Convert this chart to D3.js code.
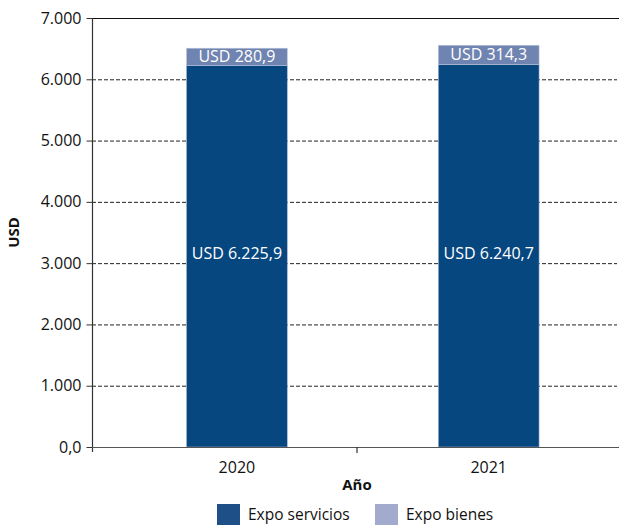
<!DOCTYPE html>
<html>
<head>
<meta charset="utf-8">
<script src="https://cdn.jsdelivr.net/npm/d3@7"></script>
<style>
  body { margin: 0; background: #fff; }
  svg { display: block; font-family: "Open Sans", "Noto Sans", sans-serif; }
</style>
</head>
<body>
<svg id="chart" width="619" height="525"></svg>
<script>
// Datos
var years = ["2020", "2021"];
var servicios = [6225.9, 6240.7];
var bienes = [280.9, 314.3];
var yTicks = [0, 1000, 2000, 3000, 4000, 5000, 6000, 7000];
var seriesNames = ["Expo servicios", "Expo bienes"];

var colorBar = ["#07477f", "#7084b1"];
var colorLegend = ["#1e4f87", "#a2abce"];

var svg = d3.select("#chart");
var plotLeft = 92, plotRight = 622, plotTop = 18, plotBottom = 447;

// Escala de barras y escala de categorías (para las marcas del eje)
var x = d3.scaleBand().domain(years).range([111, 614.6])
    .paddingInner(0.6).paddingOuter(0.3);
var xCat = d3.scaleBand().domain(years).range([plotLeft, plotRight]);
var y = d3.scaleLinear().domain([0, 7000]).range([plotBottom, plotTop]);

var fmtTick = function (v) {
    if (v === 0) return "0,0";
    return d3.format(",")(v).replace(/,/g, ".");
};
var fmtVal = function (v) {
    var s = d3.format(",.1f")(v);
    return "USD " + s.replace(/,/g, "#").replace(".", ",").replace(/#/g, ".");
};

// Líneas de cuadrícula
svg.append("g").selectAll("line").data(yTicks.filter(function (d) { return d > 0 && d < 7000; }))
    .enter().append("line")
    .attr("x1", plotLeft).attr("x2", 617)
    .attr("y1", function (d) { return y(d) + 0.5; })
    .attr("y2", function (d) { return y(d) + 0.5; })
    .attr("stroke", "#222").attr("stroke-width", 1).attr("stroke-dasharray", "4,2");

// Línea superior
svg.append("line").attr("x1", plotLeft).attr("x2", 619)
    .attr("y1", y(7000) + 0.5).attr("y2", y(7000) + 0.5)
    .attr("stroke", "#111").attr("stroke-width", 1.2);

// Barras apiladas
var data = years.map(function (d, i) { return { year: d, s: servicios[i], b: bienes[i] }; });
var g = svg.append("g");
g.selectAll("rect.s").data(data).enter().append("rect")
    .attr("x", function (d) { return x(d.year); })
    .attr("width", x.bandwidth())
    .attr("y", function (d) { return y(d.s); })
    .attr("height", function (d) { return y(0) - y(d.s); })
    .attr("fill", colorBar[0]).attr("stroke", "#9fb0cf").attr("stroke-width", 0.6);
g.selectAll("rect.b").data(data).enter().append("rect")
    .attr("x", function (d) { return x(d.year); })
    .attr("width", x.bandwidth())
    .attr("y", function (d) { return y(d.s + d.b); })
    .attr("height", function (d) { return y(d.s) - y(d.s + d.b); })
    .attr("fill", colorBar[1]).attr("stroke", "#b8c4dc").attr("stroke-width", 0.6);

// Etiquetas de valor
g.selectAll("text.s").data(data).enter().append("text")
    .attr("x", function (d) { return x(d.year) + x.bandwidth() / 2; })
    .attr("y", function (d) { return (y(0) + y(d.s)) / 2 + 3; })
    .attr("text-anchor", "middle").attr("fill", "#fff").attr("font-size", 16)
    .text(function (d) { return fmtVal(d.s); });
g.selectAll("text.b").data(data).enter().append("text")
    .attr("x", function (d) { return x(d.year) + x.bandwidth() / 2; })
    .attr("y", function (d) { return (y(d.s) + y(d.s + d.b)) / 2 + 5.5; })
    .attr("text-anchor", "middle").attr("fill", "#fff").attr("font-size", 16)
    .text(function (d) { return fmtVal(d.b); });

// Eje Y
var yAxis = svg.append("g").attr("transform", "translate(" + (plotLeft + 0.5) + ",0)")
    .call(d3.axisLeft(y).tickValues(yTicks).tickFormat(fmtTick).tickSize(6).tickPadding(5));
yAxis.select(".domain").attr("stroke", "#333").attr("stroke-width", 1.2)
    .attr("d", "M0," + plotTop + "V" + (plotBottom + 5));
yAxis.selectAll(".tick line").attr("stroke", "#333");
yAxis.selectAll(".tick text").attr("font-size", 16).attr("fill", "#111")
    .attr("font-family", "Open Sans, sans-serif");

// Eje X
svg.append("line").attr("x1", plotLeft).attr("x2", 619)
    .attr("y1", plotBottom + 0.5).attr("y2", plotBottom + 0.5)
    .attr("stroke", "#555").attr("stroke-width", 1.2);
var boundaries = years.slice(1).map(function (d) { return xCat(d); });
svg.append("g").selectAll("line").data(boundaries).enter().append("line")
    .attr("x1", function (d) { return d; }).attr("x2", function (d) { return d; })
    .attr("y1", plotBottom).attr("y2", plotBottom + 6)
    .attr("stroke", "#333").attr("stroke-width", 1.2);
svg.append("g").selectAll("text").data(years).enter().append("text")
    .attr("x", function (d) { return x(d) + x.bandwidth() / 2; })
    .attr("y", plotBottom + 26)
    .attr("text-anchor", "middle").attr("font-size", 16).attr("fill", "#111")
    .text(function (d) { return d; });

// Títulos de ejes
svg.append("text").attr("x", boundaries[0]).attr("y", 490)
    .attr("text-anchor", "middle").attr("font-size", 15).attr("font-weight", "bold")
    .attr("fill", "#111").text("Año");
svg.append("text").attr("transform", "translate(19," + ((plotTop + plotBottom) / 2) + ") rotate(-90)")
    .attr("text-anchor", "middle").attr("font-size", 15).attr("font-weight", "bold")
    .attr("fill", "#111").text("USD");

// Leyenda
var legendX = [217, 375];
var legend = svg.append("g").selectAll("g").data(seriesNames).enter().append("g")
    .attr("transform", function (d, i) { return "translate(" + legendX[i] + ",504)"; });
legend.append("rect").attr("width", 23).attr("height", 21)
    .attr("fill", function (d, i) { return colorLegend[i]; });
legend.append("text").attr("x", 31).attr("y", 16).attr("font-size", 15.5).attr("fill", "#111")
    .text(function (d) { return d; });
</script>
</body>
</html>
